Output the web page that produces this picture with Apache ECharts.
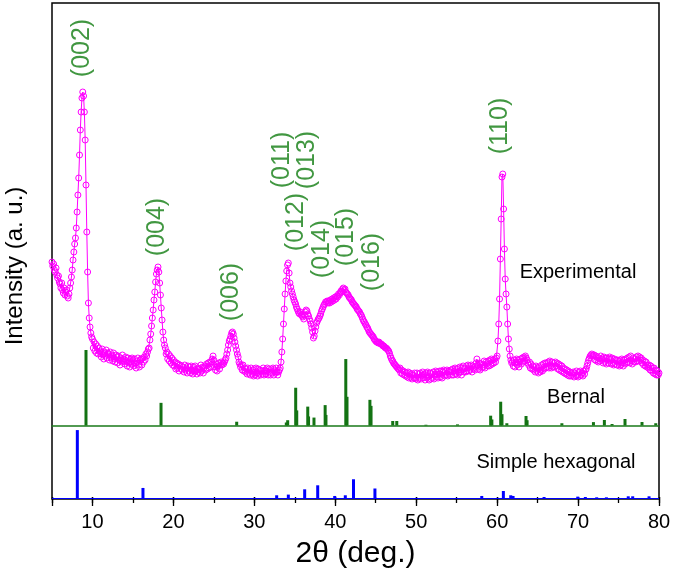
<!DOCTYPE html>
<html><head><meta charset="utf-8">
<script src="https://cdn.jsdelivr.net/npm/echarts@6/dist/echarts.min.js"></script>
<style>html,body{margin:0;padding:0;background:#fff}#c{width:675px;height:580px}</style>
</head><body><div id="c"></div><script>
// Experimental pattern: 2θ from 5.0° to 80.0° in 0.1° steps (intensity, a.u.)
const thetaStart = 5, thetaStep = 0.1;
const expIntensity = [
237,233,235,229,227,231,224,221,223,217,
215,211,216,209,206,211,204,207,209,203,
201,205,211,216,222,229,239,247,255,261,
271,287,304,321,344,369,387,401,407,403,
387,359,314,267,227,196,181,172,166,162,
160,151,157,148,155,146,153,145,151,147,
148,142,150,144,140,147,143,149,141,146,
145,139,147,141,144,138,146,140,137,144,
142,136,143,139,134,141,137,144,138,140,
135,142,137,133,141,136,132,140,135,141,
139,133,140,135,131,138,141,134,132,139,
140,134,141,137,142,139,145,143,147,150,
151,159,165,173,181,189,199,207,217,225,
229,232,227,216,204,191,179,167,159,154,
151,145,147,140,145,138,143,136,141,134,
139,133,137,130,136,131,135,128,134,130,
133,129,132,127,134,129,131,126,133,128,
132,126,133,128,125,132,127,133,128,125,
131,127,130,126,134,128,132,126,131,133,
129,135,130,136,131,137,132,137,140,143,
139,132,129,135,128,133,136,130,134,137,
134,136,135,137,139,141,145,149,154,158,
160,163,166,167,165,161,157,153,149,145,
142,137,135,132,134,129,134,128,131,127,
130,125,131,126,129,124,131,125,129,123,
130,124,131,126,123,130,125,129,124,128,
125,131,124,129,125,128,131,124,130,126,
124,130,126,131,124,129,126,131,127,124,
127,129,131,137,147,160,175,190,205,218,
228,234,236,226,216,212,208,205,202,199,
197,195,192,190,188,186,185,187,184,183,
182,180,184,187,189,188,185,183,180,178,
175,171,167,161,163,168,172,176,178,180,
181,183,185,188,190,192,194,195,197,197,
198,196,198,196,199,197,200,198,201,199,
202,200,203,202,205,204,206,208,207,210,
211,209,210,207,206,205,204,202,201,200,
199,197,196,195,194,193,192,190,189,188,
187,185,184,182,180,178,177,175,174,172,
171,169,167,166,165,164,163,162,160,159,
158,157,157,156,157,156,155,155,154,153,
153,152,151,151,150,149,148,146,143,141,
139,138,136,135,134,133,132,131,130,129,
131,126,129,125,128,124,127,123,126,122,
127,121,126,122,125,120,124,121,126,121,
120,126,119,125,121,126,120,124,127,121,
125,119,126,121,127,122,119,126,120,125,
121,127,120,125,128,122,127,121,125,128,
122,128,121,127,129,123,128,124,129,123,
128,124,127,129,124,130,124,128,131,125,
130,124,131,126,132,127,124,131,133,127,
131,127,133,128,134,128,133,129,134,127,
133,130,132,129,136,140,134,130,136,129,
135,131,134,132,138,131,137,135,133,138,
133,139,134,140,135,139,136,140,137,141,
143,158,175,200,240,280,322,325,290,250,
220,205,192,175,160,150,143,139,136,137,
133,139,132,137,140,134,139,132,137,140,
135,141,137,142,138,143,141,139,136,134,
137,131,135,130,133,129,132,127,133,128,
131,126,132,127,129,134,128,135,130,136,
131,136,132,137,131,138,133,131,137,132,
136,132,137,133,136,130,135,129,134,128,
133,127,131,126,130,125,129,124,128,123,
127,123,126,124,127,122,126,123,128,124,
122,127,123,128,124,126,123,128,125,129,
130,133,136,139,141,143,144,145,143,144,
144,139,143,138,142,137,141,138,143,140,
141,136,142,137,141,135,141,136,140,142,
140,135,141,136,134,140,135,139,134,139,
138,133,139,134,140,136,133,139,135,140,
136,141,137,142,136,143,138,135,141,137,
140,137,142,138,143,138,142,139,141,136,
139,134,138,133,137,132,134,131,134,129,
133,128,131,126,131,125,129,124,128,124,
126
];
// Bernal reference pattern (relative intensity, %)
const bernalTheta = [9.2,18.47,27.82,33.95,34.12,35.11,35.24,36.6,36.7,37.37,38.75,38.85,41.3,41.45,44.28,44.42,47.1,47.6,51.2,55.1,59.2,59.35,60.44,60.6,61.2,63.57,63.7,68.0,71.9,73.25,74.2,75.8,77.9,79.6];
const bernalInt   = [100,30,5,4,7,50,20,25,12,10.5,27,14,88,38,34,26,6,6,1,1.5,13,8,31.5,15,3,12.6,7,3,4.5,7.3,2,8.6,4.6,3];
// Simple hexagonal reference pattern (relative intensity, %)
const hexTheta = [8.13,16.24,32.76,34.2,36.22,37.83,39.93,41.24,42.25,44.9,58.1,60.77,61.68,61.97,65.8,69.96,70.9,72.3,73.5,76.2,76.75,78.77];
const hexInt   = [100,14.8,4,5,12.8,18.7,3,4,27.6,14,3,10.3,4,3,1.5,2,1.5,1,1,2.5,2.5,2.5];
// Miller-index annotations: text, 2θ anchor, level (a.u.)
const hklText  = ['(002)','(004)','(006)','(011)','(013)','(012)','(014)','(015)','(016)','(110)'];
const hklTheta = [8.77,17.97,27.12,33.48,36.51,35.21,38.36,41.39,44.60,60.36];
const hklLevel = [451,272,207,339,339,277,250,262,237,373];

const expData = expIntensity.map((v, i) => [+(thetaStart + i * thetaStep).toFixed(1), v]);
const bernalData = bernalTheta.map((t, i) => [t, bernalInt[i]]);
const hexData = hexTheta.map((t, i) => [t, hexInt[i]]);
const hklData = hklText.map((s, i) => ({ name: s, value: [hklTheta[i], hklLevel[i]] }));

const FONT = "'Liberation Sans', Arial, sans-serif";
const GREEN_TXT = '#127d12';
const chart = echarts.init(document.getElementById('c'), null, { renderer: 'canvas' });
chart.setOption({
  animation: false,
  backgroundColor: '#fff',
  grid: [
    { left: 52, right: 16, top: 3, bottom: 81, show: true, borderColor: '#000', borderWidth: 1.5, backgroundColor: 'transparent' },
    { left: 52, right: 16, top: 345, bottom: 154.5 },
    { left: 52, right: 16, top: 426, bottom: 82 }
  ],
  xAxis: [
    { gridIndex: 0, type: 'value', min: 5, max: 80, show: false },
    { gridIndex: 1, type: 'value', min: 5, max: 80, axisLine: { show: true, lineStyle: { color: '#1a7a1a', width: 1.5 } },
      axisTick: { show: false }, axisLabel: { show: false }, splitLine: { show: false } },
    { gridIndex: 2, type: 'value', min: 5, max: 80, interval: 5, position: 'bottom', offset: -1,
      axisLine: { show: false }, axisTick: { show: true, length: 6, lineStyle: { color: '#000', width: 1.3 } },
      axisLabel: { show: false }, splitLine: { show: false } },
    { gridIndex: 2, type: 'value', min: 5, max: 80, splitNumber: 8, minInterval: 10, maxInterval: 10, position: 'bottom', offset: -1,
      axisLine: { show: false }, axisTick: { show: true, length: 9, lineStyle: { color: '#000', width: 1.3 } },
      axisLabel: { show: true, margin: 15, color: '#000', fontFamily: FONT, fontSize: 20, formatter: v => (v % 10 === 0 ? String(v) : '') },
      splitLine: { show: false },
      name: '2θ (deg.)', nameLocation: 'middle', nameGap: 42,
      nameTextStyle: { color: '#000', fontFamily: FONT, fontSize: 30 } }
  ],
  yAxis: [
    { gridIndex: 0, type: 'value', min: 0, max: 496, show: false },
    { gridIndex: 1, type: 'value', min: 0, max: 106.6, show: false },
    { gridIndex: 2, type: 'value', min: 0, max: 106, show: false }
  ],
  series: [
    { type: 'line', xAxisIndex: 0, yAxisIndex: 0, data: expData, z: 3,
      symbol: 'circle', symbolSize: 6, showAllSymbol: true,
      itemStyle: { color: 'rgba(255,255,255,0)', borderColor: '#ff00ff', borderWidth: 1 },
      lineStyle: { color: '#ff00ff', width: 1 }, emphasis: { disabled: true } },
    { type: 'scatter', xAxisIndex: 0, yAxisIndex: 0, data: hklData, symbolSize: 0, silent: true,
      label: { show: true, position: 'inside', rotate: 90, formatter: '{b}', color: GREEN_TXT, fontFamily: FONT, fontSize: 25 } },
    { type: 'bar', xAxisIndex: 1, yAxisIndex: 1, data: bernalData, barWidth: 3, itemStyle: { color: '#137313' }, silent: true },
    { type: 'bar', xAxisIndex: 2, yAxisIndex: 2, data: hexData, barWidth: 3, itemStyle: { color: '#0000ff' }, silent: true,
      markLine: { silent: true, symbol: 'none', label: { show: false }, lineStyle: { color: '#0000ff', width: 1, type: 'solid' }, data: [{ yAxis: 0 }] } }
  ],
  graphic: [
    { type: 'text', x: 15, y: 266, rotation: Math.PI / 2,
      style: { text: 'Intensity (a. u.)', font: '24px ' + FONT, fill: '#000', align: 'center', verticalAlign: 'middle', textAlign: 'center', textVerticalAlign: 'middle' } },
    { type: 'text', x: 578, y: 272,
      style: { text: 'Experimental', font: '20px ' + FONT, fill: '#000', align: 'center', verticalAlign: 'middle', textAlign: 'center', textVerticalAlign: 'middle' } },
    { type: 'text', x: 576, y: 397,
      style: { text: 'Bernal', font: '20px ' + FONT, fill: '#000', align: 'center', verticalAlign: 'middle', textAlign: 'center', textVerticalAlign: 'middle' } },
    { type: 'text', x: 556, y: 462,
      style: { text: 'Simple hexagonal', font: '20px ' + FONT, fill: '#000', align: 'center', verticalAlign: 'middle', textAlign: 'center', textVerticalAlign: 'middle' } }
  ]
});
</script></body></html>
